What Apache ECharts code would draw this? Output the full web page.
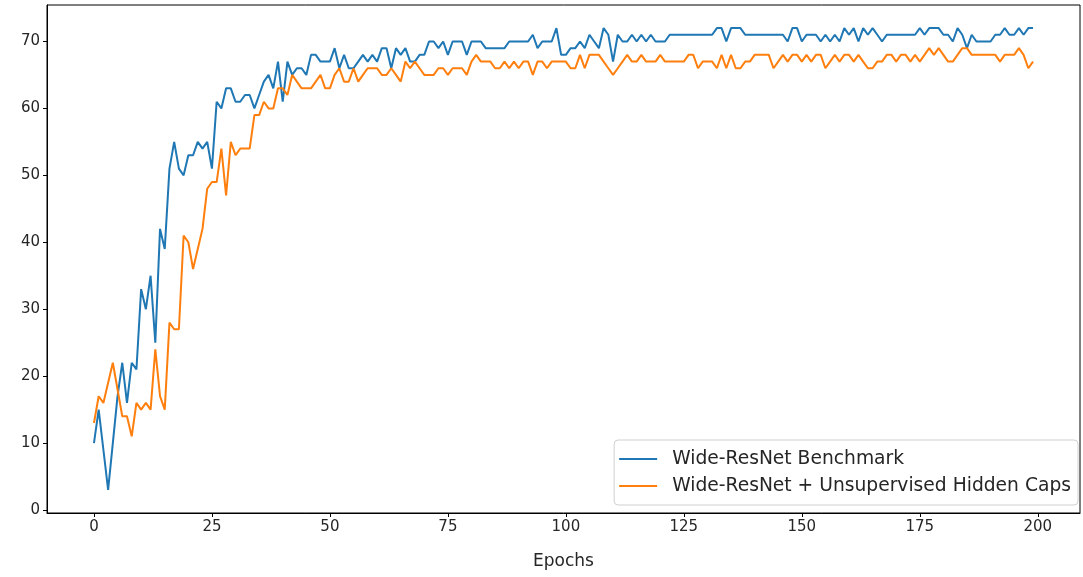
<!DOCTYPE html>
<html>
<head>
<meta charset="utf-8">
<script src="https://cdn.jsdelivr.net/npm/echarts@6/dist/echarts.min.js"></script>
<style>
html,body{margin:0;padding:0;background:#fff;}
#c{width:1083px;height:577px;}
</style>
</head>
<body>
<div id="c"></div>
<script>
const seriesNames = ["Wide-ResNet Benchmark", "Wide-ResNet + Unsupervised Hidden Caps"];
const benchmark = [
10,15,9,3,10,17,22,16,22,21,33,30,35,25,42,39,51,55,51,50,
53,53,55,54,55,51,61,60,63,63,61,61,62,62,60,62,64,65,63,67,
61,67,65,66,66,65,68,68,67,67,67,69,66,68,66,66,67,68,67,68,
67,69,69,66,69,68,69,67,67,68,68,70,70,69,70,68,70,70,70,68,
70,70,70,69,69,69,69,69,70,70,70,70,70,71,69,70,70,70,72,68,
68,69,69,70,69,71,70,69,72,71,67,71,70,70,71,70,71,70,71,70,
70,70,71,71,71,71,71,71,71,71,71,71,72,72,70,72,72,72,71,71,
71,71,71,71,71,71,71,70,72,72,70,71,71,71,70,71,70,71,70,72,
71,72,70,72,71,72,71,70,71,71,71,71,71,71,71,72,71,72,72,72,
71,71,70,72,71,69,71,70,70,70,70,71,71,72,71,71,72,71,72,72
];
const hiddenCaps = [
13,17,16,19,22,18,14,14,11,16,15,16,15,24,17,15,28,27,27,41,
40,36,39,42,48,49,49,54,47,55,53,54,54,54,59,59,61,60,60,63,
63,62,65,64,63,63,63,64,65,63,63,65,66,64,64,66,64,65,66,66,
66,65,65,66,65,64,67,66,67,66,65,65,65,66,66,65,66,66,66,65,
67,68,67,67,67,66,66,67,66,67,66,67,67,65,67,67,66,67,67,67,
67,66,66,68,66,68,68,68,67,66,65,66,67,68,67,67,68,67,67,67,
68,67,67,67,67,67,68,68,66,67,67,67,66,68,66,68,66,66,67,67,
68,68,68,68,66,67,68,67,68,68,67,68,67,68,68,66,67,68,67,68,
68,67,68,67,66,66,67,67,68,68,67,68,68,67,68,67,68,69,68,69,
68,67,67,68,69,69,68,68,68,68,68,68,67,68,68,68,69,68,66,67
];
const xTicks = [0,25,50,75,100,125,150,175,200];
const yTicks = [0,10,20,30,40,50,60,70];
const xTitle = "Epochs";

const toPairs = arr => arr.map((v, i) => [i, v]);
const font = "DejaVu Sans";
const chart = echarts.init(document.getElementById('c'), null, {renderer: 'canvas'});
chart.setOption({
  animation: false,
  backgroundColor: '#fff',
  grid: {left: 47, top: 5, width: 1033, height: 508, show: true, borderColor: '#000', borderWidth: 1, containLabel: false},
  xAxis: {
    type: 'value', min: -9.95, max: 208.95,
    name: xTitle, nameLocation: 'middle', nameGap: 40,
    nameTextStyle: {fontFamily: font, fontSize: 17, color: '#262626'},
    axisLine: {show: true, onZero: false, lineStyle: {color: '#000', width: 1}},
    axisTick: {show: true, inside: false, length: 4, lineStyle: {color: '#000'}, customValues: xTicks},
    axisLabel: {fontFamily: font, fontSize: 15, color: '#262626', margin: 7, customValues: xTicks},
    splitLine: {show: false}
  },
  yAxis: {
    type: 'value', min: -0.45, max: 75.45,
    axisLine: {show: true, onZero: false, lineStyle: {color: '#000', width: 1}},
    axisTick: {show: true, inside: false, length: 4, lineStyle: {color: '#000'}, customValues: yTicks},
    axisLabel: {fontFamily: font, fontSize: 15, color: '#262626', margin: 7, customValues: yTicks},
    splitLine: {show: false}
  },
  legend: {
    orient: 'vertical', right: 5, bottom: 72,
    data: seriesNames,
    icon: 'rect', itemWidth: 38, itemHeight: 2, itemGap: 7,
    textStyle: {fontFamily: font, fontSize: 18.7, lineHeight: 20, color: '#262626', padding: [0,0,0,10]},
    backgroundColor: '#fff', borderColor: '#d0d0d0', borderWidth: 1, borderRadius: 4,
    padding: [9, 7, 9, 5]
  },
  series: [
    {name: seriesNames[0], type: 'line', data: toPairs(benchmark), showSymbol: false, symbol: 'none',
     lineStyle: {color: '#1f77b4', width: 2}, itemStyle: {color: '#1f77b4'}, z: 2},
    {name: seriesNames[1], type: 'line', data: toPairs(hiddenCaps), showSymbol: false, symbol: 'none',
     lineStyle: {color: '#ff7f0e', width: 2}, itemStyle: {color: '#ff7f0e'}, z: 3}
  ]
});
</script>
</body>
</html>
